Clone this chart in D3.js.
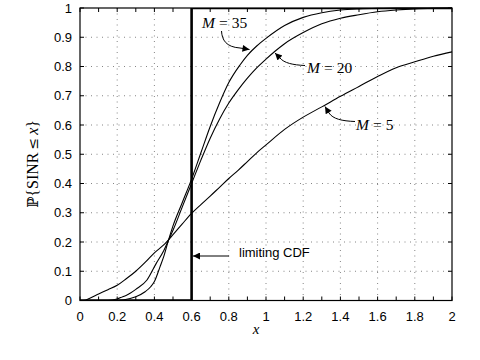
<!DOCTYPE html>
<html>
<head>
<meta charset="utf-8">
<script src="https://cdn.jsdelivr.net/npm/d3@7"></script>
<style>
  body { margin: 0; background: #fff; }
  svg { display: block; }
</style>
</head>
<body>
<script>
const xM5  = [0, 0.02, 0.05, 0.1, 0.15, 0.2, 0.25, 0.3, 0.35, 0.4, 0.45, 0.5, 0.55, 0.6, 0.65, 0.7, 0.75, 0.8, 0.85, 0.9, 0.95, 1.0, 1.1, 1.2, 1.3, 1.4, 1.5, 1.6, 1.7, 1.8, 1.9, 2.0];
const yM5  = [0, 0, 0.007, 0.022, 0.037, 0.052, 0.075, 0.1, 0.13, 0.163, 0.19, 0.225, 0.262, 0.298, 0.328, 0.357, 0.387, 0.417, 0.445, 0.475, 0.505, 0.532, 0.585, 0.627, 0.662, 0.698, 0.732, 0.766, 0.796, 0.816, 0.835, 0.85];

const xM20 = [0, 0.15, 0.2, 0.23, 0.25, 0.3, 0.36, 0.41, 0.45, 0.475, 0.5, 0.55, 0.6, 0.65, 0.7, 0.75, 0.8, 0.85, 0.9, 0.95, 1.0, 1.05, 1.1, 1.2, 1.3, 1.4, 1.5, 1.6, 1.7, 1.8, 1.9, 2.0];
const yM20 = [0, 0, 0.005, 0.013, 0.018, 0.038, 0.07, 0.127, 0.17, 0.205, 0.24, 0.32, 0.4, 0.48, 0.555, 0.62, 0.675, 0.72, 0.76, 0.795, 0.825, 0.853, 0.878, 0.916, 0.946, 0.965, 0.977, 0.987, 0.993, 0.997, 0.999, 1.0];

const xM35 = [0, 0.2, 0.27, 0.3, 0.35, 0.38, 0.4, 0.43, 0.45, 0.475, 0.5, 0.55, 0.6, 0.65, 0.7, 0.75, 0.8, 0.86, 0.9, 0.95, 1.0, 1.1, 1.2, 1.3, 1.4, 1.5, 1.6, 1.7, 2.0];
const yM35 = [0, 0, 0.007, 0.013, 0.03, 0.047, 0.065, 0.115, 0.15, 0.205, 0.255, 0.335, 0.415, 0.505, 0.595, 0.675, 0.745, 0.805, 0.838, 0.87, 0.896, 0.94, 0.968, 0.984, 0.993, 0.997, 0.999, 1.0, 1.0];

// limiting CDF: step at 0.6
const xLim = [0, 0.6, 0.6, 2];
const yLim = [0, 0, 1, 1];

const xTicks = d3.range(0, 2.001, 0.1);
const xLabels = [0, 0.2, 0.4, 0.6, 0.8, 1, 1.2, 1.4, 1.6, 1.8, 2];
const yTicks = [0, 0.1, 0.2, 0.3, 0.4, 0.5, 0.6, 0.7, 0.8, 0.9, 1];

const W = 480, H = 360;
const m = { left: 80, right: 28, top: 8, bottom: 59.5 };

const svg = d3.select("body").append("svg")
  .attr("width", W)
  .attr("height", H);

const x = d3.scaleLinear().domain([0, 2]).range([m.left, W - m.right]);
const y = d3.scaleLinear().domain([0, 1]).range([H - m.bottom, m.top]);

const defs = svg.append("defs");
defs.append("clipPath").attr("id", "plot")
  .append("rect")
    .attr("x", x(0)).attr("y", y(1))
    .attr("width", x(2) - x(0)).attr("height", y(0) - y(1));

// grid
const grid = svg.append("g")
  .attr("stroke", "#666")
  .attr("stroke-width", 0.8)
  .attr("stroke-dasharray", "1,4.5");

grid.selectAll(".gx")
  .data(xLabels.slice(1, -1))
  .enter().append("line")
    .attr("x1", d => x(d)).attr("x2", d => x(d))
    .attr("y1", y(0)).attr("y2", y(1));

grid.selectAll(".gy")
  .data(yTicks.slice(1, -1))
  .enter().append("line")
    .attr("x1", x(0)).attr("x2", x(2))
    .attr("y1", d => y(d)).attr("y2", d => y(d));

// inward ticks on all four sides
const tickLen = 4;
const ticks = svg.append("g").attr("stroke", "#000").attr("stroke-width", 1);
xTicks.forEach(t => {
  ticks.append("line").attr("x1", x(t)).attr("x2", x(t)).attr("y1", y(0)).attr("y2", y(0) - tickLen);
  ticks.append("line").attr("x1", x(t)).attr("x2", x(t)).attr("y1", y(1)).attr("y2", y(1) + tickLen);
});
yTicks.forEach(t => {
  ticks.append("line").attr("x1", x(0)).attr("x2", x(0) + tickLen).attr("y1", y(t)).attr("y2", y(t));
  ticks.append("line").attr("x1", x(2)).attr("x2", x(2) - tickLen).attr("y1", y(t)).attr("y2", y(t));
});

// tick labels
const fmt = d => String(+d.toFixed(1));
svg.append("g")
  .attr("font-family", "'Liberation Sans', Arial, sans-serif")
  .attr("font-size", 13)
  .attr("text-anchor", "middle")
  .selectAll("text")
  .data(xLabels)
  .enter().append("text")
    .attr("x", d => x(d))
    .attr("y", y(0) + 20)
    .text(fmt);

svg.append("g")
  .attr("font-family", "'Liberation Sans', Arial, sans-serif")
  .attr("font-size", 13)
  .attr("text-anchor", "end")
  .selectAll("text")
  .data(yTicks)
  .enter().append("text")
    .attr("x", x(0) - 8)
    .attr("y", d => y(d) + 4.6)
    .text(fmt);

// curves
const line = d3.line()
  .x(d => x(d[0]))
  .y(d => y(d[1]))
  .curve(d3.curveMonotoneX);

const series = [
  { xs: xM5, ys: yM5 },
  { xs: xM20, ys: yM20 },
  { xs: xM35, ys: yM35 }
];

svg.append("g")
  .attr("fill", "none")
  .attr("stroke", "#000")
  .attr("stroke-width", 1.1)
  .selectAll("path")
  .data(series)
  .enter().append("path")
    .attr("d", s => line(s.xs.map((v, i) => [v, s.ys[i]])));

// limiting CDF step, clipped to the axes like the original
svg.append("path")
  .attr("clip-path", "url(#plot)")
  .attr("fill", "none")
  .attr("stroke", "#000")
  .attr("stroke-width", 2.6)
  .attr("d", d3.line().x(d => x(d[0])).y(d => y(d[1]))(xLim.map((v, i) => [v, yLim[i]])));

// frame
svg.append("rect")
  .attr("x", x(0)).attr("y", y(1))
  .attr("width", x(2) - x(0)).attr("height", y(0) - y(1))
  .attr("fill", "none")
  .attr("stroke", "#000")
  .attr("stroke-width", 1.2);

// arrowhead
defs.append("marker")
  .attr("id", "ah")
  .attr("viewBox", "0 0 10 10")
  .attr("refX", 10).attr("refY", 5)
  .attr("markerWidth", 9).attr("markerHeight", 7)
  .attr("markerUnits", "userSpaceOnUse")
  .attr("orient", "auto")
  .append("path")
    .attr("d", "M0,0L10,5L0,10Z")
    .attr("fill", "#000");

const notes = svg.append("g")
  .attr("fill", "none")
  .attr("stroke", "#000")
  .attr("stroke-width", 1);

notes.append("path")
  .attr("d", "M221.5,31 C222,40 226,47 240,48 L249.5,49.5")
  .attr("marker-end", "url(#ah)");
notes.append("path")
  .attr("d", "M305,65.5 C293,65 284,63 280,58 L275,53")
  .attr("marker-end", "url(#ah)");
notes.append("path")
  .attr("d", "M355,121.5 C342,121 333,119 329,113 L325,106.5")
  .attr("marker-end", "url(#ah)");
notes.append("line")
  .attr("x1", 229).attr("y1", 256)
  .attr("x2", 193).attr("y2", 256)
  .attr("marker-end", "url(#ah)");

// labels with M
const mLabels = [
  { t: "35", x: 202, y: 28 },
  { t: "20", x: 307, y: 73 },
  { t: "5", x: 356, y: 130 }
];
const lab = svg.append("g")
  .attr("font-family", "'Liberation Serif', 'DejaVu Serif', serif")
  .attr("font-size", 15.5);
mLabels.forEach(d => {
  const t = lab.append("text").attr("x", d.x).attr("y", d.y);
  t.append("tspan").attr("font-style", "italic").text("M");
  t.append("tspan").attr("dx", 4).text("=");
  t.append("tspan").attr("dx", 4).text(d.t);
});

svg.append("text")
  .attr("x", 239).attr("y", 257)
  .attr("font-family", "'Liberation Sans', Arial, sans-serif")
  .attr("font-size", 13)
  .text("limiting CDF");

// axis labels
svg.append("text")
  .attr("x", 256).attr("y", 334)
  .attr("text-anchor", "middle")
  .attr("font-family", "'Liberation Serif', serif")
  .attr("font-style", "italic")
  .attr("font-size", 15)
  .text("x");

const yl = svg.append("text")
  .attr("transform", "translate(38,164) rotate(-90)")
  .attr("text-anchor", "middle")
  .attr("font-family", "'Liberation Serif', 'DejaVu Serif', serif")
  .attr("font-size", 16);
yl.append("tspan").attr("font-family", "'DejaVu Serif', serif").attr("font-size", 15).text("ℙ");
yl.append("tspan").text("{SINR");
yl.append("tspan").attr("dx", 3).attr("font-family", "'DejaVu Serif', serif").attr("font-size", 14).text("≤");
yl.append("tspan").attr("dx", 3).attr("font-style", "italic").text("x");
yl.append("tspan").text("}");
</script>
</body>
</html>
